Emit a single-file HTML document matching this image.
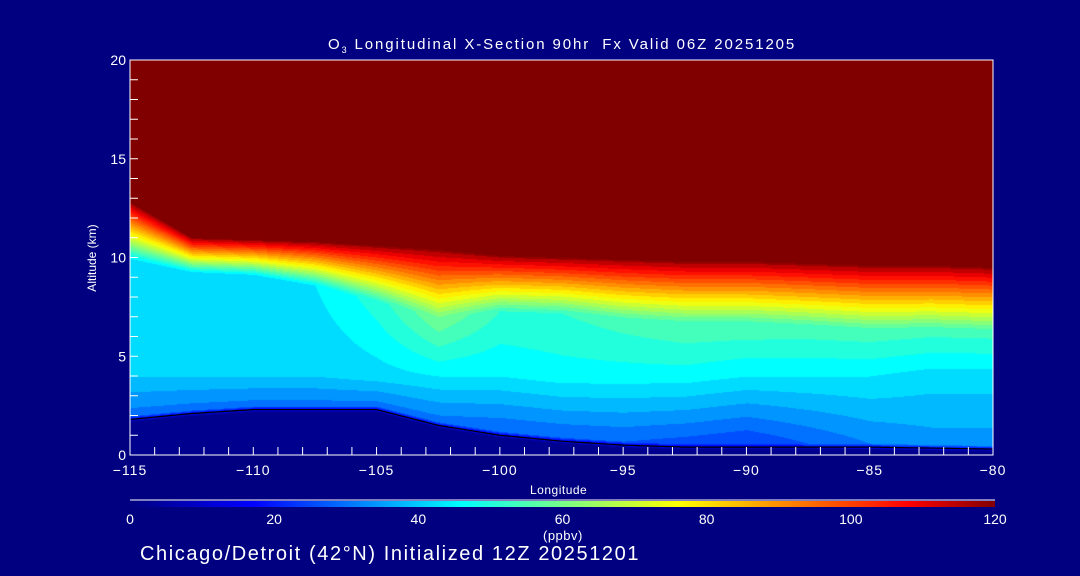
<!DOCTYPE html>
<html><head><meta charset="utf-8"><style>
body{margin:0;background:#000080;width:1080px;height:576px;overflow:hidden;position:relative;font-family:"Liberation Sans",sans-serif;color:#fff}
.t{position:absolute;font-size:13px;white-space:nowrap;line-height:1}
</style></head><body>
<div class="t" style="left:328px;top:37px;font-size:15px;letter-spacing:1.9px">O<sub style="font-size:9px">3</sub> Longitudinal X-Section 90hr&nbsp; Fx Valid 06Z 20251205</div>
<canvas id="field" width="863" height="395" style="position:absolute;left:130px;top:60px"></canvas>
<svg id="ax" width="1080" height="576" style="position:absolute;left:0;top:0"></svg>
<div class="t" style="left:530px;top:484px;font-size:12px;letter-spacing:0.5px">Longitude</div>
<div class="t" style="left:52px;top:252px;font-size:12px;transform:rotate(-90deg);width:80px;text-align:center">Altitude (km)</div>
<div class="t" style="left:543px;top:529px;font-size:13px;letter-spacing:0.5px">(ppbv)</div>
<div class="t" style="left:140px;top:544px;font-size:20px;letter-spacing:1.6px">Chicago/Detroit (42°N) Initialized 12Z 20251201</div>
<script>
const lons=[-115,-112.5,-110,-107.5,-105,-102.5,-100,-97.5,-95,-92.5,-90,-87.5,-85,-82.5,-80];
const groundKm=[1.7,2.0,2.2,2.2,2.2,1.4,0.9,0.6,0.4,0.3,0.3,0.3,0.3,0.25,0.2];
const blValue=[30,30,30,30,30,30,28,28,28,26,24,28,32,34,34];
const midValue=[40,40,40,40,42,44,44,46,46,46,44,44,44,42,42];
const upperValue=[40,40,42,44,50,60,52,52,54,56,56,55,55,54,54];
const tropoKm=[12.8,11.0,10.9,10.8,10.6,10.4,10.1,10,9.9,9.8,9.8,9.7,9.6,9.6,9.5];
const tropoDepth=[3,1.8,1.8,2.2,2.8,3.4,2.8,2.8,3,3,3,3.1,3.2,3.2,3.2];
const xTicks=[-115,-110,-105,-100,-95,-90,-85,-80];
const yTicks=[0,5,10,15,20];
const cbTicks=[0,20,40,60,80,100,120];
const X0=130,X1=993,Y0=455,Y1=60,LMIN=-115,LMAX=-80,ZMAX=20;
const xs=l=>X0+(l-LMIN)/(LMAX-LMIN)*(X1-X0);
const ys=z=>Y0-z/ZMAX*(Y0-Y1);
const stops=[[0,[0,0,128]],[17,[0,0,255]],[46,[0,255,255]],[76,[255,255,0]],[108,[255,0,0]],[120,[128,0,0]]];
function cmap(v){v=Math.max(0,Math.min(120,v));for(let i=1;i<stops.length;i++){if(v<=stops[i][0]){const a=stops[i-1],b=stops[i],t=(v-a[0])/(b[0]-a[0]);return a[1].map((c,k)=>Math.round(c+(b[1][k]-c)*t));}}return stops[5][1];}
function interp(arr,l){let i=0;while(i<lons.length-2&&l>lons[i+1])i++;const t=(l-lons[i])/(lons[i+1]-lons[i]);return arr[i]+(arr[i+1]-arr[i])*t;}
function val(l,z){const g=interp(groundKm,l),bl=interp(blValue,l),m=interp(midValue,l),u=interp(upperValue,l),t=interp(tropoKm,l),d=interp(tropoDepth,l);
if(z<g)return 3;if(z<g+0.3)return 3+(bl-3)*(z-g)/0.3;
if(z<4)return bl+(m-bl)*(z-g-0.3)/Math.max(0.1,4-g-0.3);
const tb=t-d;if(z<tb)return m+(u-m)*(z-4)/Math.max(0.1,tb-4);
if(z<t){const f=(z-tb)/d;return u+(118-u)*f;}return 125;}
const cv=document.getElementById('field'),ctx=cv.getContext('2d'),img=ctx.createImageData(cv.width,cv.height);
for(let py=0;py<cv.height;py++){const z=(cv.height-py)/cv.height*ZMAX;for(let px=0;px<cv.width;px++){const l=LMIN+px/cv.width*(LMAX-LMIN);let v=val(l,z);if(v<120)v=Math.floor(v/4)*4+2;const c=cmap(v);const o=(py*cv.width+px)*4;img.data[o]=c[0];img.data[o+1]=c[1];img.data[o+2]=c[2];img.data[o+3]=255;}}
ctx.putImageData(img,0,0);
const svg=document.getElementById('ax'),NS='http://www.w3.org/2000/svg';
function mk(tag,at,parent){const e=document.createElementNS(NS,tag);for(const k in at)e.setAttribute(k,at[k]);(parent||svg).appendChild(e);return e;}
let pts=[];for(let l=LMIN;l<=LMAX;l+=0.25)pts.push(xs(l)+','+ys(interp(groundKm,l)+0.1));
const gl=mk('polyline',{points:pts.join(' '),fill:'none',stroke:'#000','stroke-width':1.2});


const frame=mk('path',{d:`M${X0},${Y1}H${X1}V${Y0}H${X0}Z`,fill:'none',stroke:'#fff','stroke-width':1});


for(let l=LMIN;l<=LMAX;l++){const t=mk('line',{x1:xs(l),x2:xs(l),y1:Y0,y2:Y0-8,stroke:'#fff'});}
for(let z=0;z<=ZMAX;z++){const t=mk('line',{x1:X0,x2:X0+8,y1:ys(z),y2:ys(z),stroke:'#fff'});}
xTicks.forEach(l=>{const t=mk('text',{x:xs(l),y:Y0+20,fill:'#fff','font-size':14,'letter-spacing':1,'text-anchor':'middle','font-family':'Liberation Sans'});t.textContent=String(l).replace('-','\u2212');});
yTicks.forEach(z=>{const t=mk('text',{x:X0-4,y:ys(z)+5,fill:'#fff','font-size':14,'text-anchor':'end','font-family':'Liberation Sans'});t.textContent=z;});
const defs=mk('defs',{});const gr=mk('linearGradient',{id:'cb'},defs);
stops.forEach(s=>mk('stop',{offset:(s[0]/120*100)+'%','stop-color':'rgb('+s[1].join(',')+')'},gr));
const cb=mk('rect',{x:130,y:501,width:865,height:6,fill:'url(#cb)'});
const cl=mk('line',{x1:130,x2:995,y1:500,y2:500,stroke:'#fff'});
cbTicks.forEach(v=>{const t=mk('text',{x:130+v/120*865,y:524,fill:'#fff','font-size':14,'text-anchor':'middle','font-family':'Liberation Sans'});t.textContent=v;});
</script>
</body></html>
